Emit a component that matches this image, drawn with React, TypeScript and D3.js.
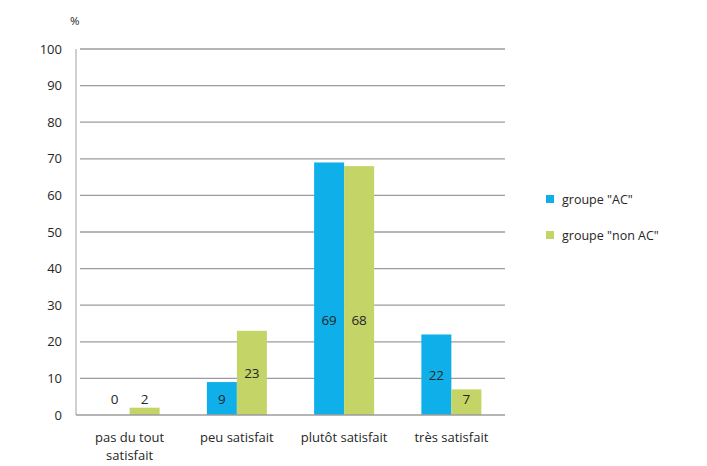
import React, { useEffect, useRef } from 'react';
import * as d3 from 'd3';

const categories = ['pas du tout satisfait', 'peu satisfait', 'plutôt satisfait', 'très satisfait'];
const categoryLines = [['pas du tout', 'satisfait'], ['peu satisfait'], ['plutôt satisfait'], ['très satisfait']];
const seriesNames = ['groupe "AC"', 'groupe "non AC"'];
const groupeAC = [0, 9, 69, 22];
const groupeNonAC = [2, 23, 68, 7];
const yTicks = [0, 10, 20, 30, 40, 50, 60, 70, 80, 90, 100];
const colors = ['#0fb0ea', '#c4d466'];

const App: React.FC = () => {
  const ref = useRef<SVGSVGElement | null>(null);

  useEffect(() => {
    const W = 707;
    const H = 466;
    const margin = { top: 49, left: 76, right: 202, bottom: 51 };
    const font = '"Open Sans", "Noto Sans", sans-serif';
    const ink = '#262626';

    const svg = d3.select(ref.current);
    svg.selectAll('*').remove();
    svg.attr('width', W).attr('height', H);

    svg.append('rect').attr('width', W).attr('height', H).attr('fill', '#fff');

    const x = d3.scaleBand<string>()
      .domain(categories)
      .range([margin.left, W - margin.right]);
    const inner = d3.scaleBand<number>()
      .domain([0, 1])
      .range([0, 60]);
    const y = d3.scaleLinear().domain([0, 100]).range([H - margin.bottom, margin.top]);

    // gridlines
    svg.append('g')
      .selectAll('line')
      .data(yTicks.filter(t => t > 0))
      .enter()
      .append('line')
      .attr('x1', margin.left + 4)
      .attr('x2', W - margin.right)
      .attr('y1', d => y(d))
      .attr('y2', d => y(d))
      .attr('stroke', '#9c9c9c')
      .attr('stroke-width', 1.3);

    // y axis
    svg.append('line')
      .attr('x1', margin.left).attr('x2', margin.left)
      .attr('y1', y(100)).attr('y2', y(0))
      .attr('stroke', '#b0b0b0').attr('stroke-width', 1.2);

    svg.append('g')
      .selectAll('text')
      .data(yTicks)
      .enter()
      .append('text')
      .attr('x', 62)
      .attr('y', d => y(d) + 4.5)
      .attr('text-anchor', 'end')
      .attr('font-family', font)
      .attr('font-size', 13)
      .attr('fill', ink)
      .text(d => d);

    svg.append('text')
      .attr('x', 70).attr('y', 25)
      .attr('font-family', font).attr('font-size', 11.5).attr('fill', ink)
      .text('%');

    // bars
    const series = [groupeAC, groupeNonAC];
    series.forEach((vals, si) => {
      const g = svg.append('g');
      const barX = (i: number) => x(categories[i])! + x.bandwidth() / 2 - 30 + inner(si)!;
      g.selectAll('rect')
        .data(vals)
        .enter()
        .append('rect')
        .attr('x', (_, i) => barX(i))
        .attr('width', inner.bandwidth())
        .attr('y', d => y(d))
        .attr('height', d => y(0) - y(d))
        .attr('fill', colors[si]);

      g.selectAll('text')
        .data(vals)
        .enter()
        .append('text')
        .attr('x', (_, i) => barX(i) + inner.bandwidth() / 2)
        .attr('y', d => y(Math.max(4.5, Math.min(d / 2, 26))) + 5)
        .attr('text-anchor', 'middle')
        .attr('font-family', font)
        .attr('font-size', 13.5)
        .attr('fill', ink)
        .text(d => d);
    });

    // baseline
    svg.append('line')
      .attr('x1', margin.left).attr('x2', W - margin.right)
      .attr('y1', y(0)).attr('y2', y(0))
      .attr('stroke', '#9c9c9c').attr('stroke-width', 1.3);

    // category labels
    categories.forEach((c, i) => {
      const t = svg.append('text')
        .attr('x', x(c)! + x.bandwidth() / 2)
        .attr('y', y(0) + 27)
        .attr('text-anchor', 'middle')
        .attr('font-family', font)
        .attr('font-size', 13)
        .attr('fill', ink);
      categoryLines[i].forEach((line, li) => {
        t.append('tspan')
          .attr('x', x(c)! + x.bandwidth() / 2)
          .attr('dy', li === 0 ? 0 : 18)
          .text(line);
      });
    });

    // legend
    seriesNames.forEach((name, i) => {
      const ly = 200 + i * 36;
      svg.append('rect')
        .attr('x', 546).attr('y', ly - 5)
        .attr('width', 8).attr('height', 8)
        .attr('fill', colors[i]);
      svg.append('text')
        .attr('x', 562).attr('y', ly + 4)
        .attr('font-family', font)
        .attr('font-size', 12.5)
        .attr('fill', ink)
        .text(name);
    });
  }, []);

  return <svg ref={ref} style={{ position: 'absolute', left: 0, top: 0 }} />;
};

export default App;
